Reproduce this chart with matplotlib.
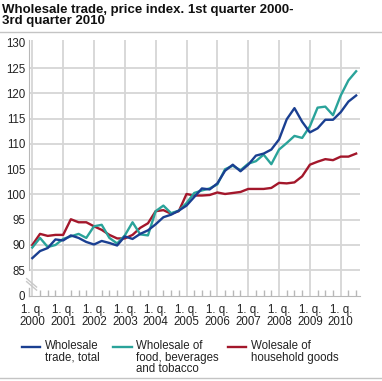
import numpy as np
import matplotlib
matplotlib.use('Agg')
import matplotlib.pyplot as plt
from matplotlib.lines import Line2D
from matplotlib.legend_handler import HandlerLine2D

plt.rcParams['font.family'] = ['Liberation Sans', 'DejaVu Sans']

# quarters 1. q. 2000 - 3. q. 2010
years = ['2000', '2001', '2002', '2003', '2004', '2005', '2006', '2007', '2008', '2009', '2010']

total = [87.4, 88.8, 89.4, 91.1,
         90.9, 91.9, 91.4, 90.6,
         90.1, 90.8, 90.4, 89.9,
         91.7, 91.2, 92.2, 92.9,
         94.1, 95.5, 96.0, 96.8,
         97.8, 99.5, 101.2, 101.0,
         102.2, 104.7, 105.9, 104.6,
         105.9, 107.7, 108.1, 108.9,
         110.9, 114.9, 117.1, 114.4,
         112.3, 113.1, 114.8, 114.8,
         116.3, 118.4, 119.6]

food = [89.5, 91.4, 89.6, 90.0,
        91.2, 91.7, 92.2, 91.4,
        93.7, 94.0, 91.4, 90.3,
        91.9, 94.5, 92.1, 91.9,
        96.7, 97.8, 96.3, 96.8,
        98.3, 100.3, 100.8, 101.2,
        102.0, 105.0, 105.7, 104.8,
        106.1, 106.6, 107.9, 106.0,
        108.9, 110.2, 111.6, 111.2,
        113.5, 117.2, 117.4, 115.7,
        119.6, 122.6, 124.4]

household = [90.0, 92.2, 91.8, 92.0,
             92.0, 95.1, 94.5, 94.5,
             93.7, 93.0, 92.0, 91.3,
             91.3, 92.0, 93.4, 94.3,
             96.7, 96.9, 96.2, 96.7,
             100.1, 99.8, 99.8, 99.9,
             100.4, 100.1, 100.3, 100.5,
             101.1, 101.1, 101.1, 101.3,
             102.3, 102.2, 102.4, 103.6,
             105.9, 106.5, 107.0, 106.8,
             107.5, 107.5, 108.1]

labels = ['Wholesale\ntrade, total',
          'Wholesale of\nfood, beverages\nand tobacco',
          'Wolesale of\nhousehold goods']
colors = ['#1a3f91', '#2aa39a', '#a3172b']

yticks = [85, 90, 95, 100, 105, 110, 115, 120, 125, 130]
y_zero = 79.9   # where "0" sits below the axis break
grid_col = '#d6d6d6'
axis_col = '#b8b8b8'


# legend handle lifted up to the first text line
class FirstLineHandler(HandlerLine2D):
    def __init__(self, lift, **kw):
        super().__init__(**kw)
        self.lift = lift

    def create_artists(self, legend, orig_handle, xdescent, ydescent, width, height, fontsize, trans):
        arts = super().create_artists(legend, orig_handle, xdescent, ydescent, width, height, fontsize, trans)
        for a in arts:
            a.set_ydata(np.asarray(a.get_ydata()) + self.lift)
        return arts


fig = plt.figure(figsize=(3.82, 3.81), dpi=100)
ax = fig.add_axes([0.0767, 0.2231, 0.8657, 0.672])

x = np.arange(len(total))

# grid
for v in yticks[:-1]:
    ax.axhline(v, color=grid_col, lw=1.3, zorder=1)
for i in range(len(years)):
    ax.axvline(i * 4, color=grid_col, lw=1.3, zorder=1)

l_house, = ax.plot(x, household, color=colors[2], lw=1.7, zorder=3)
l_food, = ax.plot(x, food, color=colors[1], lw=1.7, zorder=4)
l_total, = ax.plot(x, total, color=colors[0], lw=1.7, zorder=5)

ax.set_xlim(-0.39, 42.5)
ax.set_ylim(y_zero, 130.6)

ax.set_yticks([y_zero] + yticks)
ax.set_yticklabels(['0'] + [str(v) for v in yticks])
ax.set_xticks(np.arange(len(years)) * 4)
ax.set_xticklabels(['1. q.\n' + y for y in years], linespacing=0.95)
ax.set_xticks(x, minor=True)

ax.tick_params(axis='y', length=0, pad=3, labelsize=8.3, colors='#222222')
ax.tick_params(axis='x', which='major', length=0, pad=6, labelsize=8.3, colors='#222222')
ax.tick_params(axis='x', which='minor', direction='in', length=4, width=1, color=axis_col)

for s in ['top', 'right']:
    ax.spines[s].set_visible(False)
ax.spines['left'].set_color(axis_col)
ax.spines['bottom'].set_color(axis_col)
ax.spines['left'].set_bounds(85, 130.6)

# axis break
ax.add_line(Line2D([0, 0], [0, 0.03], transform=ax.transAxes, color=axis_col, lw=1, clip_on=False))
ax.add_line(Line2D([-0.008, 0.022], [0.068, 0.035], transform=ax.transAxes, color='#c8c8c8', lw=1, clip_on=False))
ax.add_line(Line2D([-0.008, 0.022], [0.056, 0.023], transform=ax.transAxes, color='#c8c8c8', lw=1, clip_on=False))

# title and separators
fig.text(0.006, 0.99, 'Wholesale trade, price index. 1st quarter 2000-\n3rd quarter 2010',
         fontsize=9.5, fontweight='bold', va='top', ha='left', linespacing=0.9, color='#111111')
fig.add_artist(Line2D([0, 1], [0.9173, 0.9173], transform=fig.transFigure, color='#c4c4c4', lw=1))
fig.add_artist(Line2D([0, 1], [0.008, 0.008], transform=fig.transFigure, color='#c4c4c4', lw=1))

# legend, one block per series
leg_lines = [l_total, l_food, l_house]
leg_x = [0.0576, 0.296, 0.597]
line_pt = 8.1
for k in range(3):
    n = labels[k].count('\n')
    lg = fig.legend([leg_lines[k]], [labels[k]], loc='upper left', bbox_to_anchor=(leg_x[k], 0.1075),
                    frameon=False, fontsize=8.3, handlelength=1.6, handletextpad=0.4,
                    borderaxespad=0, borderpad=0,
                    handler_map={leg_lines[k]: FirstLineHandler(lift=0.5 * n * line_pt)})
    for t in lg.get_texts():
        t.set_linespacing(0.95)
        t.set_color('#222222')

plt.savefig('out.png', dpi=100)
